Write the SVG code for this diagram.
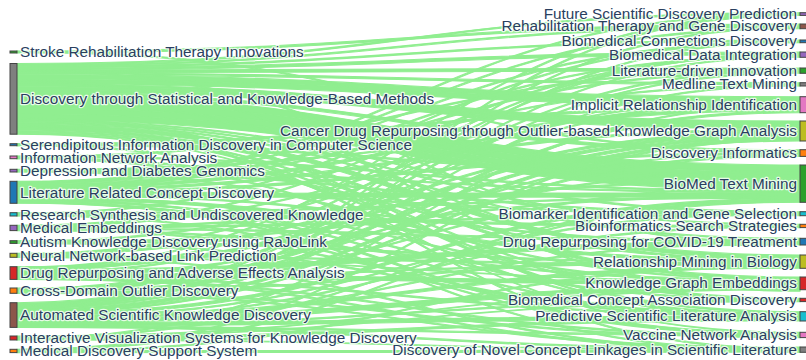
<svg xmlns="http://www.w3.org/2000/svg" width="806" height="360" viewBox="0 0 806 360">
<style>
.lk{fill:#90ee90;stroke:#90ee90;stroke-width:1.1}
.nd{stroke:#444;stroke-width:1}
text{font-family:"Liberation Sans",Arial,sans-serif;font-size:15.3px;fill:#2a3f5f;stroke:#fff;stroke-opacity:0.8;stroke-width:2.4;stroke-linejoin:round;paint-order:stroke}
.tr{text-anchor:end}
</style>
<rect width="806" height="360" fill="#fff"/>
<g id="links">
<path class="lk" d="M17,51C408.5,51 408.5,24 800,24V26C408.5,26 408.5,53 17,53Z"/>
<path class="lk" d="M17,63.5C408.5,63.5 408.5,12.7 800,12.7V14C408.5,14 408.5,64.8 17,64.8Z"/>
<path class="lk" d="M17,64.8C408.5,64.8 408.5,26 800,26V27.3C408.5,27.3 408.5,66.1 17,66.1Z"/>
<path class="lk" d="M17,66.2C408.5,66.2 408.5,40 800,40V41.3C408.5,41.3 408.5,67.5 17,67.5Z"/>
<path class="lk" d="M17,67.5C408.5,67.5 408.5,52 800,52V54.7C408.5,54.7 408.5,70.2 17,70.2Z"/>
<path class="lk" d="M17,70.2C408.5,70.2 408.5,68 800,68V70.7C408.5,70.7 408.5,72.8 17,72.8Z"/>
<path class="lk" d="M17,72.8C408.5,72.8 408.5,82.7 800,82.7V84.7C408.5,84.7 408.5,74.8 17,74.8Z"/>
<path class="lk" d="M17,74.8C408.5,74.8 408.5,96.7 800,96.7V101.4C408.5,101.4 408.5,79.5 17,79.5Z"/>
<path class="lk" d="M17,79.5C408.5,79.5 408.5,101.4 800,101.4V106C408.5,106 408.5,84.2 17,84.2Z"/>
<path class="lk" d="M17,84.2C408.5,84.2 408.5,121 800,121V123.7C408.5,123.7 408.5,86.8 17,86.8Z"/>
<path class="lk" d="M17,86.8C408.5,86.8 408.5,123.7 800,123.7V126.3C408.5,126.3 408.5,89.5 17,89.5Z"/>
<path class="lk" d="M17,89.5C408.5,89.5 408.5,126.3 800,126.3V129C408.5,129 408.5,92.2 17,92.2Z"/>
<path class="lk" d="M17,92.2C408.5,92.2 408.5,149.7 800,149.7V152.4C408.5,152.4 408.5,94.8 17,94.8Z"/>
<path class="lk" d="M17,94.8C408.5,94.8 408.5,165 800,165V171.7C408.5,171.7 408.5,101.5 17,101.5Z"/>
<path class="lk" d="M17,101.5C408.5,101.5 408.5,171.7 800,171.7V178.3C408.5,178.3 408.5,108.2 17,108.2Z"/>
<path class="lk" d="M17,108.2C408.5,108.2 408.5,178.3 800,178.3V184.3C408.5,184.3 408.5,114.2 17,114.2Z"/>
<path class="lk" d="M17,114.2C408.5,114.2 408.5,184.3 800,184.3V190.3C408.5,190.3 408.5,120.2 17,120.2Z"/>
<path class="lk" d="M17,120.2C408.5,120.2 408.5,211.7 800,211.7V213C408.5,213 408.5,121.5 17,121.5Z"/>
<path class="lk" d="M17,121.5C408.5,121.5 408.5,224.3 800,224.3V225.6C408.5,225.6 408.5,122.8 17,122.8Z"/>
<path class="lk" d="M17,122.8C408.5,122.8 408.5,238.3 800,238.3V239.6C408.5,239.6 408.5,124.2 17,124.2Z"/>
<path class="lk" d="M17,124.2C408.5,124.2 408.5,255 800,255V259C408.5,259 408.5,128.2 17,128.2Z"/>
<path class="lk" d="M17,128.2C408.5,128.2 408.5,277 800,277V279.7C408.5,279.7 408.5,130.8 17,130.8Z"/>
<path class="lk" d="M17,130.8C408.5,130.8 408.5,298.3 800,298.3V299.6C408.5,299.6 408.5,132.2 17,132.2Z"/>
<path class="lk" d="M17,132.2C408.5,132.2 408.5,311.7 800,311.7V313C408.5,313 408.5,133.5 17,133.5Z"/>
<path class="lk" d="M17,133.5C408.5,133.5 408.5,332.3 800,332.3V333C408.5,333 408.5,134.2 17,134.2Z"/>
<path class="lk" d="M17,143.7C408.5,143.7 408.5,106 800,106V108C408.5,108 408.5,145.7 17,145.7Z"/>
<path class="lk" d="M17,156C408.5,156 408.5,190.3 800,190.3V191.7C408.5,191.7 408.5,157.3 17,157.3Z"/>
<path class="lk" d="M17,157.3C408.5,157.3 408.5,259 800,259V260.3C408.5,260.3 408.5,158.7 17,158.7Z"/>
<path class="lk" d="M17,169.3C408.5,169.3 408.5,191.7 800,191.7V193C408.5,193 408.5,170.6 17,170.6Z"/>
<path class="lk" d="M17,170.6C408.5,170.6 408.5,213 800,213V214.4C408.5,214.4 408.5,172 17,172Z"/>
<path class="lk" d="M17,181.3C408.5,181.3 408.5,27.3 800,27.3V28.7C408.5,28.7 408.5,182.6 17,182.6Z"/>
<path class="lk" d="M17,182.6C408.5,182.6 408.5,41.3 800,41.3V42.7C408.5,42.7 408.5,184 17,184Z"/>
<path class="lk" d="M17,184C408.5,184 408.5,70.7 800,70.7V72C408.5,72 408.5,185.3 17,185.3Z"/>
<path class="lk" d="M17,185.3C408.5,185.3 408.5,84.7 800,84.7V86C408.5,86 408.5,186.6 17,186.6Z"/>
<path class="lk" d="M17,186.6C408.5,186.6 408.5,108 800,108V110.7C408.5,110.7 408.5,189.3 17,189.3Z"/>
<path class="lk" d="M17,189.3C408.5,189.3 408.5,129 800,129V131C408.5,131 408.5,191.3 17,191.3Z"/>
<path class="lk" d="M17,191.3C408.5,191.3 408.5,152.4 800,152.4V154.4C408.5,154.4 408.5,193.3 17,193.3Z"/>
<path class="lk" d="M17,193.3C408.5,193.3 408.5,193 800,193V197C408.5,197 408.5,197.3 17,197.3Z"/>
<path class="lk" d="M17,197.3C408.5,197.3 408.5,260.3 800,260.3V263C408.5,263 408.5,200 17,200Z"/>
<path class="lk" d="M17,200C408.5,200 408.5,299.6 800,299.6V301C408.5,301 408.5,201.3 17,201.3Z"/>
<path class="lk" d="M17,201.3C408.5,201.3 408.5,333 800,333V335C408.5,335 408.5,203.3 17,203.3Z"/>
<path class="lk" d="M17,212.7C408.5,212.7 408.5,197 800,197V198.3C408.5,198.3 408.5,214 17,214Z"/>
<path class="lk" d="M17,214C408.5,214 408.5,225.6 800,225.6V227.6C408.5,227.6 408.5,216 17,216Z"/>
<path class="lk" d="M17,225.3C408.5,225.3 408.5,54.7 800,54.7V56C408.5,56 408.5,226.6 17,226.6Z"/>
<path class="lk" d="M17,226.6C408.5,226.6 408.5,214.4 800,214.4V215.7C408.5,215.7 408.5,228 17,228Z"/>
<path class="lk" d="M17,228C408.5,228 408.5,239.6 800,239.6V241C408.5,241 408.5,229.3 17,229.3Z"/>
<path class="lk" d="M17,229.3C408.5,229.3 408.5,279.7 800,279.7V281C408.5,281 408.5,230.6 17,230.6Z"/>
<path class="lk" d="M17,240.7C408.5,240.7 408.5,263 800,263V264.3C408.5,264.3 408.5,242 17,242Z"/>
<path class="lk" d="M17,242C408.5,242 408.5,313 800,313V314.4C408.5,314.4 408.5,243.4 17,243.4Z"/>
<path class="lk" d="M17,253.3C408.5,253.3 408.5,131 800,131V133C408.5,133 408.5,255.3 17,255.3Z"/>
<path class="lk" d="M17,255.3C408.5,255.3 408.5,264.3 800,264.3V265.7C408.5,265.7 408.5,256.6 17,256.6Z"/>
<path class="lk" d="M17,256.6C408.5,256.6 408.5,281 800,281V281.7C408.5,281.7 408.5,257.3 17,257.3Z"/>
<path class="lk" d="M17,266.7C408.5,266.7 408.5,133 800,133V135.7C408.5,135.7 408.5,269.4 17,269.4Z"/>
<path class="lk" d="M17,269.4C408.5,269.4 408.5,241 800,241V245C408.5,245 408.5,273.4 17,273.4Z"/>
<path class="lk" d="M17,273.4C408.5,273.4 408.5,281.7 800,281.7V285C408.5,285 408.5,276.7 17,276.7Z"/>
<path class="lk" d="M17,276.7C408.5,276.7 408.5,314.4 800,314.4V315.7C408.5,315.7 408.5,278 17,278Z"/>
<path class="lk" d="M17,278C408.5,278 408.5,335 800,335V336.3C408.5,336.3 408.5,279.4 17,279.4Z"/>
<path class="lk" d="M17,288C408.5,288 408.5,135.7 800,135.7V138.3C408.5,138.3 408.5,290.7 17,290.7Z"/>
<path class="lk" d="M17,290.7C408.5,290.7 408.5,336.3 800,336.3V337.6C408.5,337.6 408.5,292 17,292Z"/>
<path class="lk" d="M17,292C408.5,292 408.5,347 800,347V348.3C408.5,348.3 408.5,293.3 17,293.3Z"/>
<path class="lk" d="M17,302.7C408.5,302.7 408.5,14 800,14V15.4C408.5,15.4 408.5,304 17,304Z"/>
<path class="lk" d="M17,304C408.5,304 408.5,56 800,56V57.3C408.5,57.3 408.5,305.4 17,305.4Z"/>
<path class="lk" d="M17,305.4C408.5,305.4 408.5,72 800,72V73.3C408.5,73.3 408.5,306.7 17,306.7Z"/>
<path class="lk" d="M17,306.7C408.5,306.7 408.5,110.7 800,110.7V112.7C408.5,112.7 408.5,308.7 17,308.7Z"/>
<path class="lk" d="M17,308.7C408.5,308.7 408.5,138.3 800,138.3V141C408.5,141 408.5,311.4 17,311.4Z"/>
<path class="lk" d="M17,311.4C408.5,311.4 408.5,154.4 800,154.4V156.4C408.5,156.4 408.5,313.4 17,313.4Z"/>
<path class="lk" d="M17,313.4C408.5,313.4 408.5,198.3 800,198.3V201C408.5,201 408.5,316 17,316Z"/>
<path class="lk" d="M17,316C408.5,316 408.5,265.7 800,265.7V268.3C408.5,268.3 408.5,318.7 17,318.7Z"/>
<path class="lk" d="M17,318.7C408.5,318.7 408.5,285 800,285V289C408.5,289 408.5,322.7 17,322.7Z"/>
<path class="lk" d="M17,322.7C408.5,322.7 408.5,315.7 800,315.7V319C408.5,319 408.5,326 17,326Z"/>
<path class="lk" d="M17,326C408.5,326 408.5,348.3 800,348.3V349.7C408.5,349.7 408.5,327.4 17,327.4Z"/>
<path class="lk" d="M17,336C408.5,336 408.5,289 800,289V289.7C408.5,289.7 408.5,336.7 17,336.7Z"/>
<path class="lk" d="M17,336.7C408.5,336.7 408.5,301 800,301V301.6C408.5,301.6 408.5,337.3 17,337.3Z"/>
<path class="lk" d="M17,337.3C408.5,337.3 408.5,319 800,319V321C408.5,321 408.5,339.3 17,339.3Z"/>
<path class="lk" d="M17,339.3C408.5,339.3 408.5,349.7 800,349.7V350.3C408.5,350.3 408.5,340 17,340Z"/>
<path class="lk" d="M17,349.3C408.5,349.3 408.5,201 800,201V202.3C408.5,202.3 408.5,350.6 17,350.6Z"/>
<path class="lk" d="M17,350.6C408.5,350.6 408.5,350.3 800,350.3V352.3C408.5,352.3 408.5,352.6 17,352.6Z"/>
<path class="lk" d="M17,182C408.5,182 408.5,13.2 800,13.2V14.5C408.5,14.5 408.5,183.3 17,183.3Z"/>
<path class="lk" d="M17,187.5C408.5,187.5 408.5,55.3 800,55.3V56.6C408.5,56.6 408.5,188.8 17,188.8Z"/>
<path class="lk" d="M17,190C408.5,190 408.5,214 800,214V215.3C408.5,215.3 408.5,191.3 17,191.3Z"/>
<path class="lk" d="M17,194C408.5,194 408.5,242 800,242V243.3C408.5,243.3 408.5,195.3 17,195.3Z"/>
<path class="lk" d="M17,196C408.5,196 408.5,283 800,283V284.3C408.5,284.3 408.5,197.3 17,197.3Z"/>
<path class="lk" d="M17,199C408.5,199 408.5,317 800,317V318.3C408.5,318.3 408.5,200.3 17,200.3Z"/>
<path class="lk" d="M17,201.5C408.5,201.5 408.5,350.5 800,350.5V351.8C408.5,351.8 408.5,202.8 17,202.8Z"/>
<path class="lk" d="M17,303.5C408.5,303.5 408.5,26.5 800,26.5V27.8C408.5,27.8 408.5,304.8 17,304.8Z"/>
<path class="lk" d="M17,307.5C408.5,307.5 408.5,40.7 800,40.7V42C408.5,42 408.5,308.8 17,308.8Z"/>
<path class="lk" d="M17,312C408.5,312 408.5,84.5 800,84.5V85.8C408.5,85.8 408.5,313.3 17,313.3Z"/>
<path class="lk" d="M17,317C408.5,317 408.5,212.5 800,212.5V213.8C408.5,213.8 408.5,318.3 17,318.3Z"/>
<path class="lk" d="M17,320C408.5,320 408.5,225.5 800,225.5V226.8C408.5,226.8 408.5,321.3 17,321.3Z"/>
<path class="lk" d="M17,323.5C408.5,323.5 408.5,242.5 800,242.5V243.8C408.5,243.8 408.5,324.8 17,324.8Z"/>
<path class="lk" d="M17,325C408.5,325 408.5,299.5 800,299.5V300.8C408.5,300.8 408.5,326.3 17,326.3Z"/>
<path class="lk" d="M17,326C408.5,326 408.5,334.5 800,334.5V335.8C408.5,335.8 408.5,327.3 17,327.3Z"/>
<path class="lk" d="M17,267C408.5,267 408.5,13.5 800,13.5V14.8C408.5,14.8 408.5,268.3 17,268.3Z"/>
<path class="lk" d="M17,270C408.5,270 408.5,53 800,53V54.3C408.5,54.3 408.5,271.3 17,271.3Z"/>
<path class="lk" d="M17,272.5C408.5,272.5 408.5,99.5 800,99.5V100.8C408.5,100.8 408.5,273.8 17,273.8Z"/>
<path class="lk" d="M17,275C408.5,275 408.5,170 800,170V171.3C408.5,171.3 408.5,276.3 17,276.3Z"/>
<path class="lk" d="M17,277C408.5,277 408.5,262 800,262V263.3C408.5,263.3 408.5,278.3 17,278.3Z"/>
<path class="lk" d="M17,278C408.5,278 408.5,349.5 800,349.5V350.8C408.5,350.8 408.5,279.3 17,279.3Z"/>
<path class="lk" d="M17,225.5C408.5,225.5 408.5,103 800,103V104.3C408.5,104.3 408.5,226.8 17,226.8Z"/>
<path class="lk" d="M17,227.5C408.5,227.5 408.5,180 800,180V181.3C408.5,181.3 408.5,228.8 17,228.8Z"/>
<path class="lk" d="M17,229C408.5,229 408.5,317 800,317V318.3C408.5,318.3 408.5,230.3 17,230.3Z"/>
<path class="lk" d="M17,288.5C408.5,288.5 408.5,69.5 800,69.5V70.8C408.5,70.8 408.5,289.8 17,289.8Z"/>
<path class="lk" d="M17,290C408.5,290 408.5,151 800,151V152.3C408.5,152.3 408.5,291.3 17,291.3Z"/>
<path class="lk" d="M17,291.5C408.5,291.5 408.5,186 800,186V187.3C408.5,187.3 408.5,292.8 17,292.8Z"/>
<path class="lk" d="M17,292C408.5,292 408.5,258 800,258V259.3C408.5,259.3 408.5,293.3 17,293.3Z"/>
<path class="lk" d="M17,143.8C408.5,143.8 408.5,175 800,175V176.3C408.5,176.3 408.5,145.1 17,145.1Z"/>
<path class="lk" d="M17,144.3C408.5,144.3 408.5,299 800,299V300.3C408.5,300.3 408.5,145.6 17,145.6Z"/>
<path class="lk" d="M17,156.2C408.5,156.2 408.5,69 800,69V70.3C408.5,70.3 408.5,157.5 17,157.5Z"/>
<path class="lk" d="M17,157.3C408.5,157.3 408.5,314 800,314V315.3C408.5,315.3 408.5,158.6 17,158.6Z"/>
<path class="lk" d="M17,169.5C408.5,169.5 408.5,125 800,125V126.3C408.5,126.3 408.5,170.8 17,170.8Z"/>
<path class="lk" d="M17,170.5C408.5,170.5 408.5,279 800,279V280.3C408.5,280.3 408.5,171.8 17,171.8Z"/>
<path class="lk" d="M17,213C408.5,213 408.5,41 800,41V42.3C408.5,42.3 408.5,214.3 17,214.3Z"/>
<path class="lk" d="M17,214.5C408.5,214.5 408.5,334 800,334V335.3C408.5,335.3 408.5,215.8 17,215.8Z"/>
<path class="lk" d="M17,241C408.5,241 408.5,98 800,98V99.3C408.5,99.3 408.5,242.3 17,242.3Z"/>
<path class="lk" d="M17,242C408.5,242 408.5,195 800,195V196.3C408.5,196.3 408.5,243.3 17,243.3Z"/>
<path class="lk" d="M17,253.5C408.5,253.5 408.5,53.5 800,53.5V54.8C408.5,54.8 408.5,254.8 17,254.8Z"/>
<path class="lk" d="M17,256C408.5,256 408.5,350.5 800,350.5V351.8C408.5,351.8 408.5,257.3 17,257.3Z"/>
<path class="lk" d="M17,336.5C408.5,336.5 408.5,200.5 800,200.5V201.8C408.5,201.8 408.5,337.8 17,337.8Z"/>
<path class="lk" d="M17,338.5C408.5,338.5 408.5,105 800,105V106.3C408.5,106.3 408.5,339.8 17,339.8Z"/>
<path class="lk" d="M17,349.5C408.5,349.5 408.5,139 800,139V140.3C408.5,140.3 408.5,350.8 17,350.8Z"/>
<path class="lk" d="M17,351C408.5,351 408.5,266 800,266V267.3C408.5,267.3 408.5,352.3 17,352.3Z"/>
<path class="lk" d="M17,51.2C408.5,51.2 408.5,151 800,151V152.3C408.5,152.3 408.5,52.5 17,52.5Z"/>
<path class="lk" d="M17,100C408.5,100 408.5,262 800,262V263.3C408.5,263.3 408.5,101.3 17,101.3Z"/>
<path class="lk" d="M17,118C408.5,118 408.5,318 800,318V319.3C408.5,319.3 408.5,119.3 17,119.3Z"/>
<path class="lk" d="M17,126C408.5,126 408.5,348.5 800,348.5V349.8C408.5,349.8 408.5,127.3 17,127.3Z"/>
<path class="lk" d="M17,70C408.5,70 408.5,243 800,243V244.3C408.5,244.3 408.5,71.3 17,71.3Z"/>
<path class="lk" d="M17,80C408.5,80 408.5,290 800,290V291.3C408.5,291.3 408.5,81.3 17,81.3Z"/>
</g>
<g id="n-stroke-rehab"><rect class="nd" x="10" y="51" width="7" height="2" fill="#2ca02c"/><text x="20" y="57.2">Stroke Rehabilitation Therapy Innovations</text></g>
<g id="n-discovery-statistical"><rect class="nd" x="10" y="63.5" width="7" height="70.7" fill="#7f7f7f"/><text x="20" y="104">Discovery through Statistical and Knowledge-Based Methods</text></g>
<g id="n-serendipitous"><rect class="nd" x="10" y="143.7" width="7" height="2" fill="#1f77b4"/><text x="20" y="149.9">Serendipitous Information Discovery in Computer Science</text></g>
<g id="n-info-network"><rect class="nd" x="10" y="156" width="7" height="2.7" fill="#e377c2"/><text x="20" y="162.5">Information Network Analysis</text></g>
<g id="n-depression"><rect class="nd" x="10" y="169.3" width="7" height="2.7" fill="#9467bd"/><text x="20" y="175.8">Depression and Diabetes Genomics</text></g>
<g id="n-lit-related"><rect class="nd" x="10" y="181.3" width="7" height="22" fill="#1f77b4"/><text x="20" y="197.5">Literature Related Concept Discovery</text></g>
<g id="n-research-synthesis"><rect class="nd" x="10" y="212.7" width="7" height="3.3" fill="#17becf"/><text x="20" y="219.5">Research Synthesis and Undiscovered Knowledge</text></g>
<g id="n-medical-embeddings"><rect class="nd" x="10" y="225.3" width="7" height="5.3" fill="#9467bd"/><text x="20" y="233.1">Medical Embeddings</text></g>
<g id="n-autism"><rect class="nd" x="10" y="240.7" width="7" height="2.7" fill="#2ca02c"/><text x="20" y="247.2">Autism Knowledge Discovery using RaJoLink</text></g>
<g id="n-neural-link"><rect class="nd" x="10" y="253.3" width="7" height="4" fill="#bcbd22"/><text x="20" y="260.5">Neural Network-based Link Prediction</text></g>
<g id="n-drug-adverse"><rect class="nd" x="10" y="266.7" width="7" height="12.7" fill="#d62728"/><text x="20" y="278.2">Drug Repurposing and Adverse Effects Analysis</text></g>
<g id="n-cross-domain"><rect class="nd" x="10" y="288" width="7" height="5.3" fill="#ff7f0e"/><text x="20" y="295.8">Cross-Domain Outlier Discovery</text></g>
<g id="n-automated"><rect class="nd" x="10" y="302.7" width="7" height="24.7" fill="#8c564b"/><text x="20" y="320.2">Automated Scientific Knowledge Discovery</text></g>
<g id="n-interactive-vis"><rect class="nd" x="10" y="336" width="7" height="4" fill="#d62728"/><text x="20" y="343.2">Interactive Visualization Systems for Knowledge Discovery</text></g>
<g id="n-medical-support"><rect class="nd" x="10" y="349.3" width="7" height="3.3" fill="#ff7f0e"/><text x="20" y="356.1">Medical Discovery Support System</text></g>
<g id="n-future-prediction"><rect class="nd" x="800" y="12.7" width="7" height="2.7" fill="#9467bd"/><text class="tr" x="797" y="19.1">Future Scientific Discovery Prediction</text></g>
<g id="n-rehab-gene"><rect class="nd" x="800" y="24" width="7" height="4.7" fill="#8c564b"/><text class="tr" x="797" y="31.4">Rehabilitation Therapy and Gene Discovery</text></g>
<g id="n-biomed-connections"><rect class="nd" x="800" y="40" width="7" height="2.7" fill="#1f77b4"/><text class="tr" x="797" y="46.4">Biomedical Connections Discovery</text></g>
<g id="n-biomed-data"><rect class="nd" x="800" y="52" width="7" height="5.3" fill="#9467bd"/><text class="tr" x="797" y="59.7">Biomedical Data Integration</text></g>
<g id="n-lit-driven"><rect class="nd" x="800" y="68" width="7" height="5.3" fill="#2ca02c"/><text class="tr" x="797" y="75.7">Literature-driven innovation</text></g>
<g id="n-medline"><rect class="nd" x="800" y="82.7" width="7" height="3.3" fill="#7f7f7f"/><text class="tr" x="797" y="89.4">Medline Text Mining</text></g>
<g id="n-implicit"><rect class="nd" x="800" y="96.7" width="7" height="16" fill="#e377c2"/><text class="tr" x="797" y="109.8">Implicit Relationship Identification</text></g>
<g id="n-cancer-drug"><rect class="nd" x="800" y="121" width="7" height="20" fill="#bcbd22"/><text class="tr" x="797" y="136.1">Cancer Drug Repurposing through Outlier-based Knowledge Graph Analysis</text></g>
<g id="n-disc-informatics"><rect class="nd" x="800" y="149.7" width="7" height="6.7" fill="#ff7f0e"/><text class="tr" x="797" y="158.1">Discovery Informatics</text></g>
<g id="n-biomed-text"><rect class="nd" x="800" y="165" width="7" height="37.3" fill="#2ca02c"/><text class="tr" x="797" y="188.7">BioMed Text Mining</text></g>
<g id="n-biomarker"><rect class="nd" x="800" y="211.7" width="7" height="4" fill="#17becf"/><text class="tr" x="797" y="218.8">Biomarker Identification and Gene Selection</text></g>
<g id="n-bioinfo-search"><rect class="nd" x="800" y="224.3" width="7" height="3.3" fill="#ff7f0e"/><text class="tr" x="797" y="231">Bioinformatics Search Strategies</text></g>
<g id="n-covid"><rect class="nd" x="800" y="238.3" width="7" height="6.7" fill="#1f77b4"/><text class="tr" x="797" y="246.7">Drug Repurposing for COVID-19 Treatment</text></g>
<g id="n-rel-mining"><rect class="nd" x="800" y="255" width="7" height="13.3" fill="#bcbd22"/><text class="tr" x="797" y="266.7">Relationship Mining in Biology</text></g>
<g id="n-kge"><rect class="nd" x="800" y="277" width="7" height="12.7" fill="#d62728"/><text class="tr" x="797" y="288.4">Knowledge Graph Embeddings</text></g>
<g id="n-bcad"><rect class="nd" x="800" y="298.3" width="7" height="3.3" fill="#d62728"/><text class="tr" x="797" y="305">Biomedical Concept Association Discovery</text></g>
<g id="n-predictive"><rect class="nd" x="800" y="311.7" width="7" height="9.3" fill="#17becf"/><text class="tr" x="797" y="321.4">Predictive Scientific Literature Analysis</text></g>
<g id="n-vaccine"><rect class="nd" x="800" y="332.3" width="7" height="5.3" fill="#e377c2"/><text class="tr" x="797" y="340">Vaccine Network Analysis</text></g>
<g id="n-novel-concept"><rect class="nd" x="800" y="347" width="7" height="5.3" fill="#7f7f7f"/><text class="tr" x="797" y="354.7">Discovery of Novel Concept Linkages in Scientific Literature</text></g>
</svg>
